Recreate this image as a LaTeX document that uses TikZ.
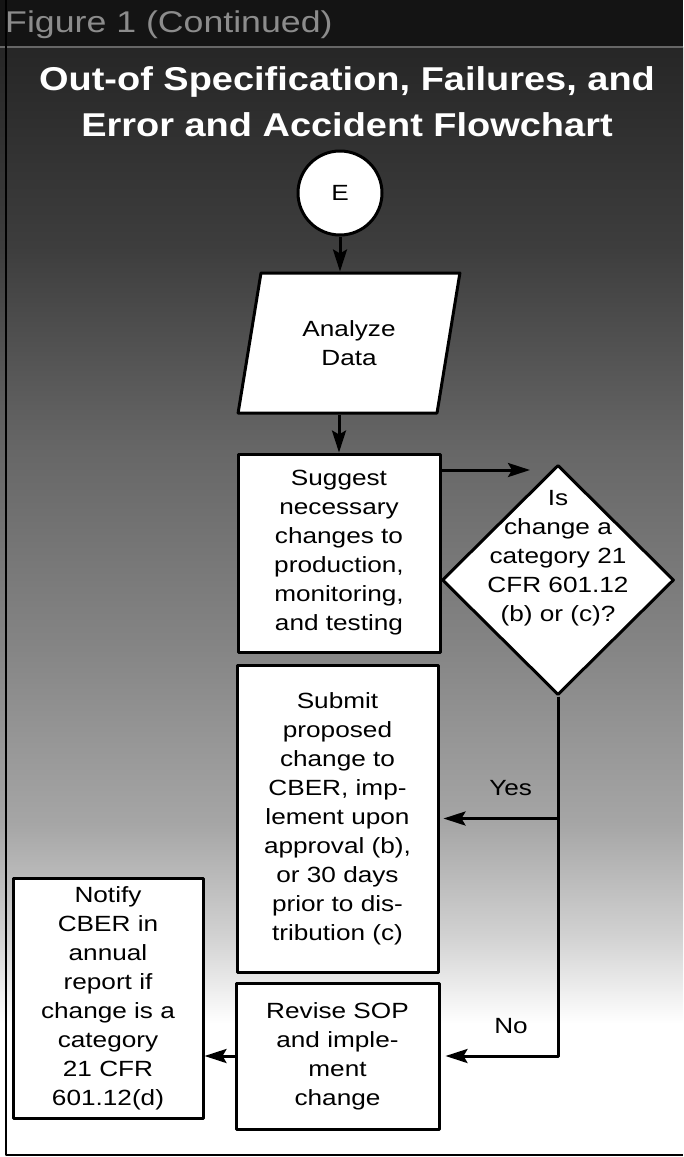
\documentclass[tikz,border=0pt]{standalone}
\usepackage{fontspec}
\setmainfont{Liberation Sans}[FakeStretch=1.19]
\newfontfamily\titlefont{Liberation Sans}[FakeStretch=1.15]
\usetikzlibrary{shapes.geometric,arrows.meta,positioning}
\pgfdeclareverticalshading{scan}{100bp}{color(0bp)=(white); color(25bp)=(white); color(31bp)=(white); color(35bp)=(black!18); color(40bp)=(black!35); color(48bp)=(black!48); color(57bp)=(black!60); color(66bp)=(black!76); color(75bp)=(black!85); color(100bp)=(black!85)}
\begin{document}
\begin{tikzpicture}[x=1pt,y=-1pt,line join=round,
	>={Stealth[length=22pt,width=14pt,inset=4pt]},
	txt/.style={font=\fontsize{22}{29}\selectfont,align=center,inner sep=0pt},
	box/.style={txt,draw,fill=white,line width=3pt},
	arr/.style={->,line width=3pt}]
	\useasboundingbox (0,0) rectangle (683,1157);
	\fill[black!92] (0,0) rectangle (683,47);
	\shade[shading=scan] (0,47) rectangle (683,1157);
	\draw[line width=1.5pt,black!60] (0,47) -- (683,47);
	\draw[line width=2pt] (6,0) -- (6,1155) -- (683,1155);
	\node[font=\fontsize{30}{30}\selectfont,text=black!45,anchor=west,inner sep=0pt] (figno) at (5,25) {Figure 1 (Continued)};
	\node[font=\titlefont\bfseries\fontsize{33}{46}\selectfont,text=white,align=center,inner sep=0pt] (title) at (347,102) {Out-of Specification, Failures, and\\Error and Accident Flowchart};
	\node[box,circle,minimum size=84pt] (E) at (340,193) {E};
	\node[box,trapezium,trapezium left angle=75,trapezium right angle=105,trapezium stretches=true,minimum width=222pt,minimum height=140pt] (analyze) at (349,343) {Analyze\\Data};
	\node[box,minimum width=202pt,minimum height=198pt] (suggest) at (339,553) {Suggest\\necessary\\changes to\\production,\\monitoring,\\and testing};
	\node[box,diamond,minimum width=232pt,minimum height=230pt] (decide) at (558,580) {};
	\node[txt] (decidetext) at ([yshift=22pt]decide.center) {Is\\change a\\category 21\\CFR 601.12\\(b) or (c)?};
	\node[box,minimum width=201pt,minimum height=307pt] (submit) at (337.5,818.5) {Submit\\proposed\\change to\\CBER, imp-\\lement upon\\approval (b),\\or 30 days\\prior to dis-\\tribution (c)};
	\node[box,minimum width=203pt,minimum height=146pt] (revise) at (337.5,1056) {Revise SOP\\and imple-\\ment\\change};
	\node[box,minimum width=190pt,minimum height=240pt] (notify) at (108,998) {Notify\\CBER in\\annual\\report if\\change is a\\category\\21 CFR\\601.12(d)};
	\coordinate (into) at (530,470);
	\draw[arr] (E.south) -- (E.south |- analyze.north);
	\draw[arr] (analyze.south -| suggest) -- (suggest);
	\draw[arr] (suggest.east |- into) -- (into);
	\draw[arr,shorten >=4pt] (decide.south) |- (submit.east) node[txt,pos=.7,above=21pt]{Yes};
	\draw[arr,shorten >=5pt] (decide.south) |- (revise.east) node[txt,pos=.7,above=21pt]{No};
	\draw[arr] (revise.west) -- (revise.west -| notify.east);
\end{tikzpicture}
\end{document}
